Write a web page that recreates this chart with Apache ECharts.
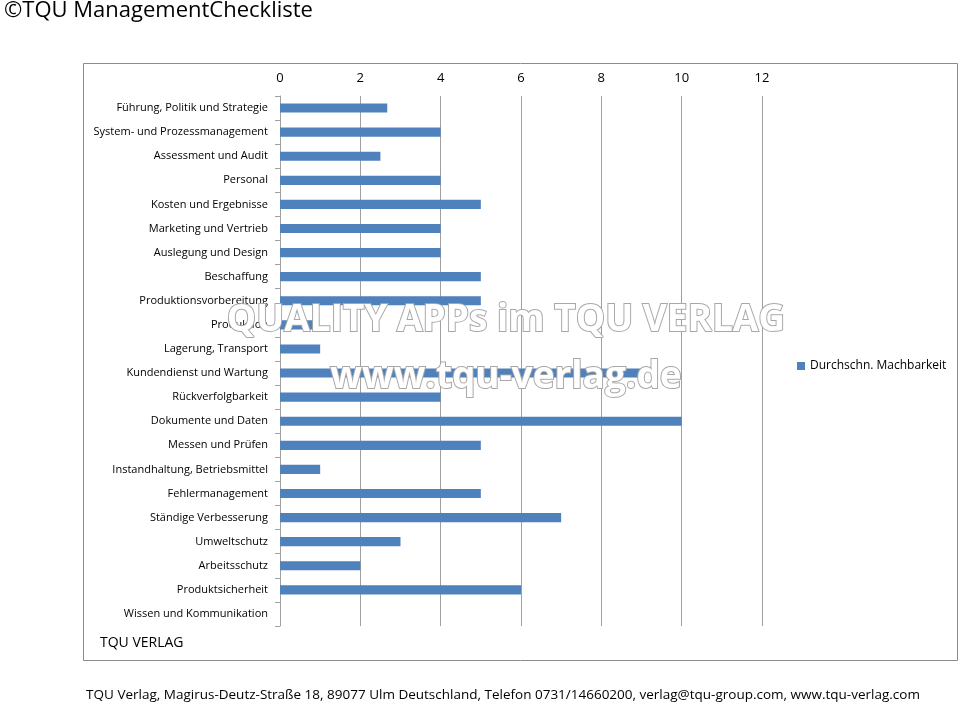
<!DOCTYPE html>
<html><head><meta charset="utf-8">
<script src="https://cdn.jsdelivr.net/npm/echarts@6/dist/echarts.min.js"></script>
<style>html,body{margin:0;padding:0;background:#fff}#c{width:960px;height:705px}</style>
</head><body><div id="c"></div>
<script>
const categories = ["Führung, Politik und Strategie","System- und Prozessmanagement","Assessment und Audit","Personal","Kosten und Ergebnisse","Marketing und Vertrieb","Auslegung und Design","Beschaffung","Produktionsvorbereitung","Produktion","Lagerung, Transport","Kundendienst und Wartung","Rückverfolgbarkeit","Dokumente und Daten","Messen und Prüfen","Instandhaltung, Betriebsmittel","Fehlermanagement","Ständige Verbesserung","Umweltschutz","Arbeitsschutz","Produktsicherheit","Wissen und Kommunikation"];
const values = [2.67,4,2.5,4,5,4,4,5,5,0.85,1,9,4,10,5,1,5,7,3,2,6,0];
const seriesName = "Durchschn. Machbarkeit";
const xTicks = {min:0, max:12, interval:2};
const FONT = "'Open Sans', 'Liberation Sans', sans-serif";
const chart = echarts.init(document.getElementById('c'));
chart.setOption({
  animation:false,
  backgroundColor:'#fff',
  grid:{left:280, right:198, top:96, bottom:79, containLabel:false},
  legend:{data:[seriesName], left:792, top:355, orient:'vertical', icon:'rect', itemWidth:8, itemHeight:8, itemGap:4,
    textStyle:{fontFamily:FONT, fontSize:12, color:'#000'}},
  xAxis:{type:'value', position:'top', min:xTicks.min, max:xTicks.max, interval:xTicks.interval,
    axisLine:{show:false}, axisTick:{show:false},
    axisLabel:{fontFamily:FONT, fontSize:13, color:'#000', margin:11},
    splitLine:{show:true, lineStyle:{color:'#a0a0a0', width:1}}},
  yAxis:{type:'category', inverse:true, data:categories,
    axisLine:{show:true, lineStyle:{color:'#a0a0a0'}},
    axisTick:{show:true, inside:false, length:5, alignWithLabel:false, lineStyle:{color:'#a0a0a0'}},
    axisLabel:{fontFamily:FONT, fontSize:11, color:'#000', margin:12}},
  series:[{name:seriesName, type:'bar', data:values, barCategoryGap:'62%', itemStyle:{color:'#4F81BD'}}],
  graphic:[
    {type:'rect', shape:{x:83.5, y:63.5, width:874, height:597}, style:{fill:'none', stroke:'#8c8c8c', lineWidth:1}, z:-1},
    {type:'text', x:4, y:11, style:{text:'©TQU ManagementCheckliste', fontFamily:FONT, fontSize:22, fill:'#000', verticalAlign:'middle'}},
    {type:'text', x:100, y:643, style:{text:'TQU VERLAG', fontFamily:FONT, fontSize:14, fill:'#000', verticalAlign:'middle'}},
    {type:'text', x:503, y:695, style:{text:'TQU Verlag, Magirus-Deutz-Straße 18, 89077 Ulm Deutschland, Telefon 0731/14660200, verlag@tqu-group.com, www.tqu-verlag.com', fontFamily:FONT, fontSize:13.5, fill:'#000', align:'center', verticalAlign:'middle'}, z:10},
    {type:'text', x:506, y:320, style:{text:'QUALITY APPs im TQU VERLAG', fontFamily:FONT, fontWeight:'bold', fontSize:37, fill:'#fff', stroke:'#a8a8a8', lineWidth:2, align:'center', verticalAlign:'middle'}, z:100},
    {type:'text', x:506, y:377, style:{text:'www.tqu-verlag.de', fontFamily:FONT, fontWeight:'bold', fontSize:37, fill:'#fff', stroke:'#a8a8a8', lineWidth:2, align:'center', verticalAlign:'middle'}, z:100}
  ]
});
</script></body></html>
